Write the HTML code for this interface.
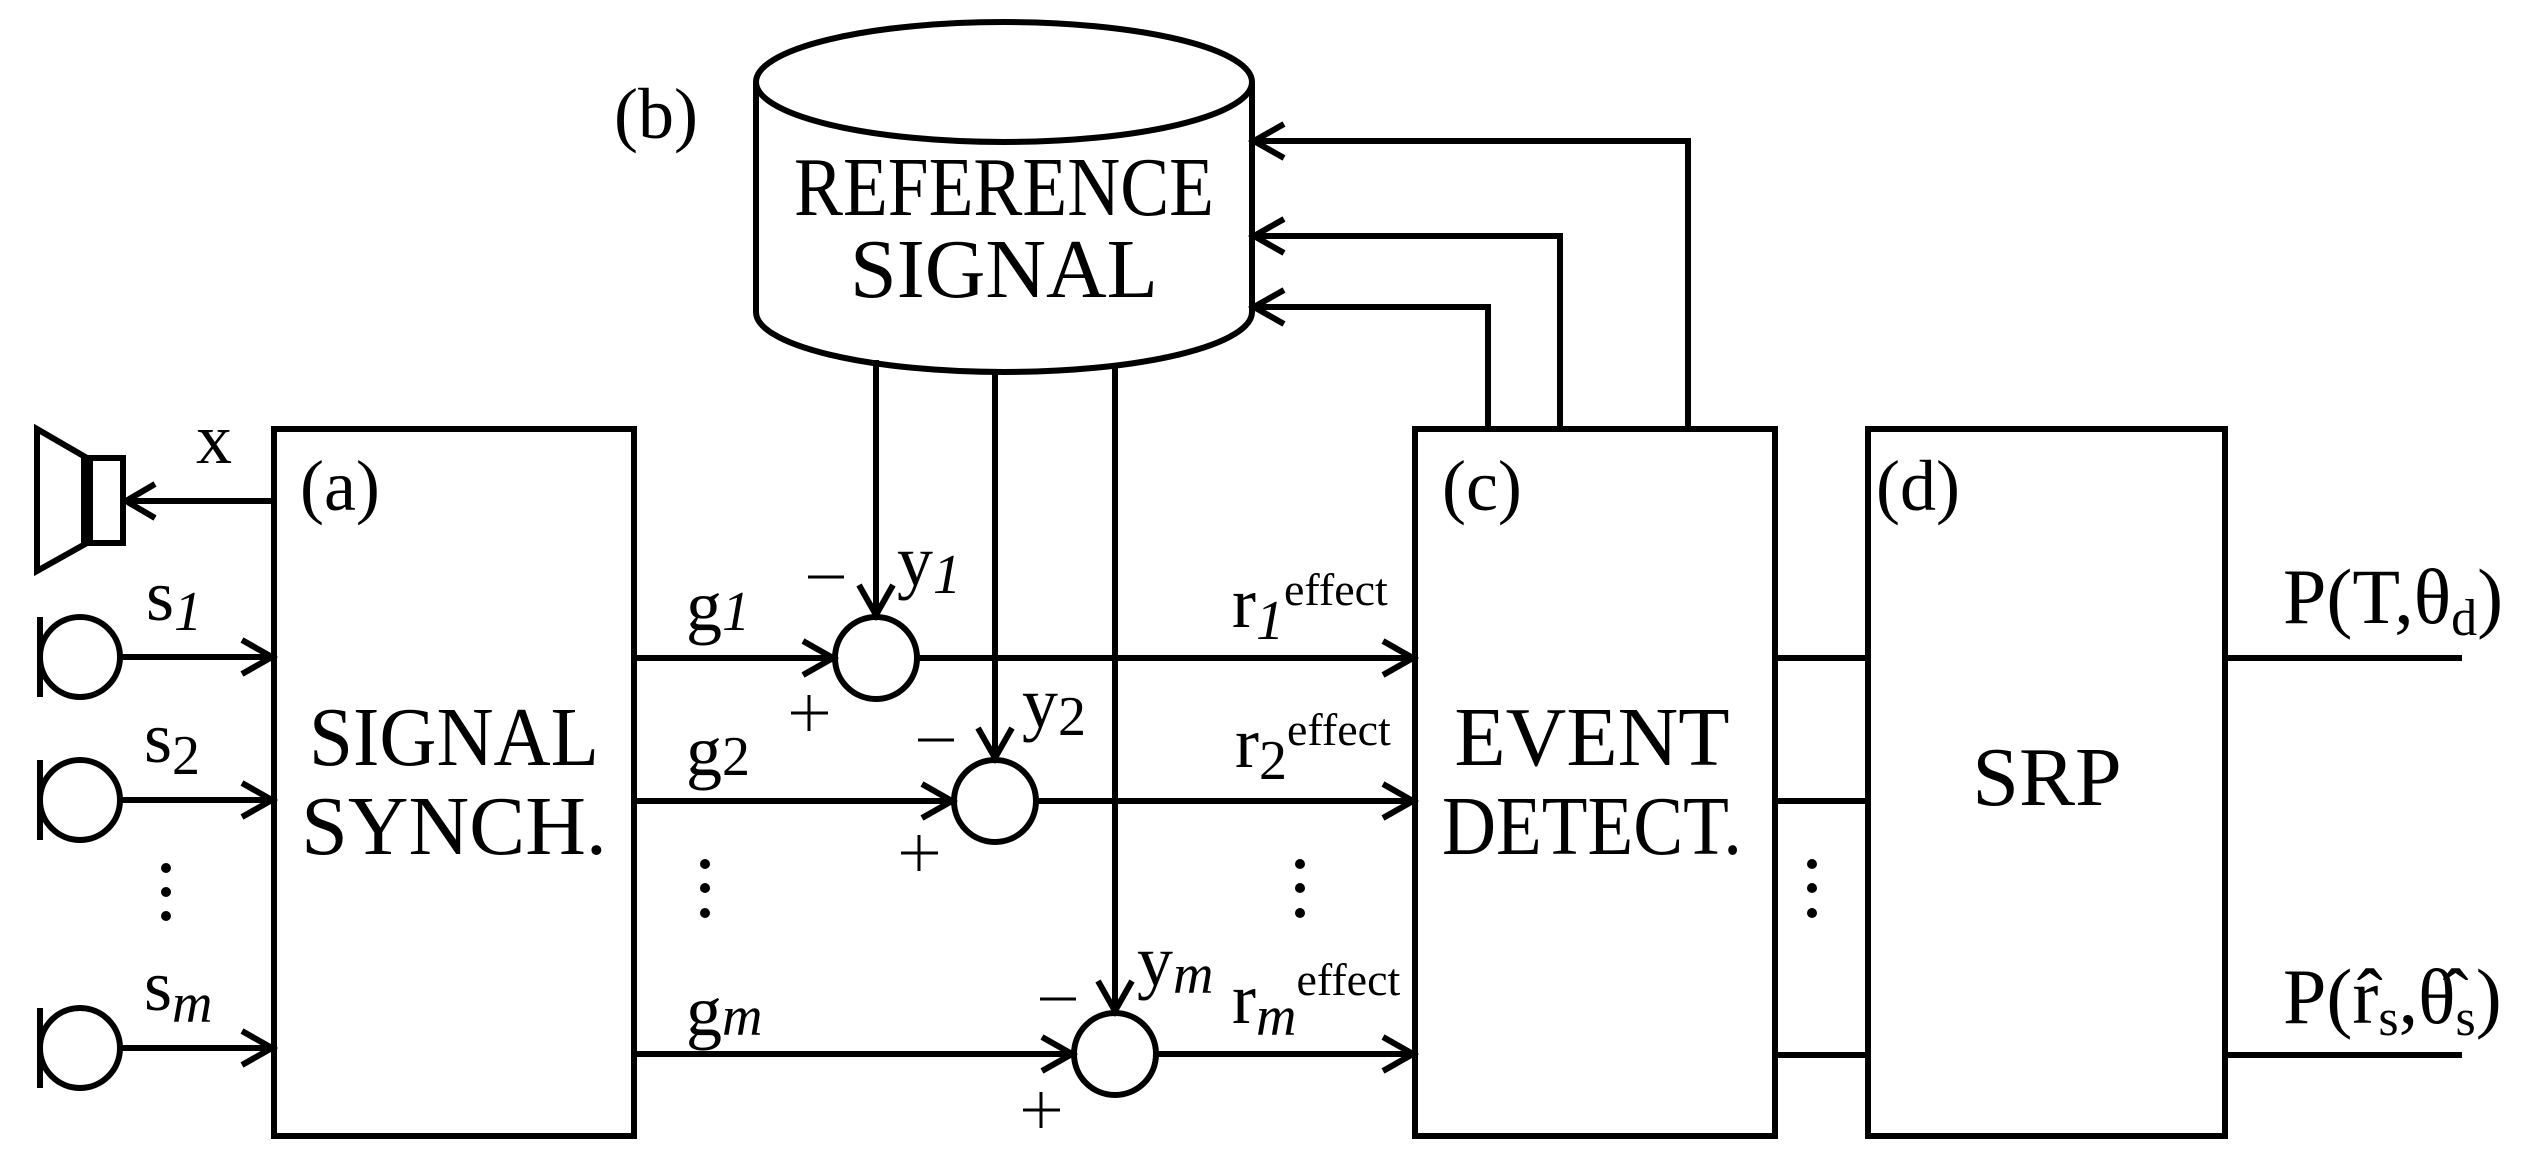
<!DOCTYPE html>
<html><head><meta charset="utf-8"><style>
html,body{margin:0;padding:0;background:#fff;}
svg{display:block;}
text{font-family:"Liberation Serif",serif;fill:#000;}
</style></head><body>
<svg width="2546" height="1167" viewBox="0 0 2546 1167" xmlns="http://www.w3.org/2000/svg">
<g stroke="#000" stroke-width="6" fill="none" stroke-linecap="butt">
<!-- boxes -->
<rect x="274" y="429" width="360" height="707"/>
<rect x="1415" y="429" width="360" height="707"/>
<rect x="1868" y="429" width="357" height="707"/>
<!-- cylinder -->
<path d="M756,82 L756,312 A248,60 0 0 0 1252,312 L1252,82"/>
<ellipse cx="1004" cy="82" rx="248" ry="60"/>
<!-- speaker -->
<path d="M37,429 L37,571 L87,543 L87,458 Z"/>
<rect x="87" y="458" width="36" height="85"/>
<line x1="87" y1="458" x2="87" y2="543" stroke-width="12"/>
<line x1="274" y1="501" x2="126" y2="501"/>
<path d="M155,484 L126,501 L155,518"/>
<!-- mics -->
<g>
<circle cx="80" cy="657" r="40"/><line x1="40" y1="617" x2="40" y2="697"/>
<circle cx="80" cy="800" r="40"/><line x1="40" y1="760" x2="40" y2="840"/>
<circle cx="80" cy="1048" r="40"/><line x1="40" y1="1008" x2="40" y2="1088"/>
</g>
<line x1="120" y1="657" x2="272" y2="657"/><path d="M242,640 L272,657 L242,674"/>
<line x1="120" y1="800" x2="272" y2="800"/><path d="M242,783 L272,800 L242,817"/>
<line x1="120" y1="1048" x2="272" y2="1048"/><path d="M242,1031 L272,1048 L242,1065"/>
<!-- g lines -->
<line x1="634" y1="658" x2="833" y2="658"/><path d="M803,641 L833,658 L803,675"/>
<line x1="634" y1="801" x2="952" y2="801"/><path d="M922,784 L952,801 L922,818"/>
<line x1="634" y1="1054" x2="1072" y2="1054"/><path d="M1042,1037 L1072,1054 L1042,1071"/>
<!-- sum circles -->
<circle cx="876" cy="658" r="41"/>
<circle cx="995" cy="801" r="41"/>
<circle cx="1115" cy="1054" r="41"/>
<!-- verticals from cylinder -->
<line x1="876" y1="360" x2="876" y2="615"/><path d="M859,585 L876,615 L893,585"/>
<line x1="995" y1="370" x2="995" y2="758"/><path d="M978,728 L995,758 L1012,728"/>
<line x1="1115" y1="368" x2="1115" y2="1011"/><path d="M1098,981 L1115,1011 L1132,981"/>
<!-- r lines -->
<line x1="917" y1="658" x2="1413" y2="658"/><path d="M1383,641 L1413,658 L1383,675"/>
<line x1="1036" y1="801" x2="1413" y2="801"/><path d="M1383,784 L1413,801 L1383,818"/>
<line x1="1156" y1="1054" x2="1413" y2="1054"/><path d="M1383,1037 L1413,1054 L1383,1071"/>
<!-- feedback -->
<path d="M1488,429 L1488,307 L1254,307"/><path d="M1284,290 L1254,307 L1284,324"/>
<path d="M1560,429 L1560,236 L1254,236"/><path d="M1284,219 L1254,236 L1284,253"/>
<path d="M1688,429 L1688,141 L1254,141"/><path d="M1284,124 L1254,141 L1284,158"/>
<!-- c to d -->
<line x1="1775" y1="658" x2="1868" y2="658"/>
<line x1="1775" y1="801" x2="1868" y2="801"/>
<line x1="1775" y1="1055" x2="1868" y2="1055"/>
<!-- outputs -->
<line x1="2225" y1="658" x2="2462" y2="658"/>
<line x1="2225" y1="1055" x2="2462" y2="1055"/>
<!-- minus/plus -->
<g stroke-width="3">
<line x1="808" y1="577" x2="844" y2="577"/>
<line x1="918" y1="740" x2="954" y2="740"/>
<line x1="1040" y1="999" x2="1076" y2="999"/>
<line x1="791" y1="713" x2="828" y2="713"/><line x1="809" y1="695" x2="809" y2="731"/>
<line x1="901" y1="853" x2="938" y2="853"/><line x1="919" y1="835" x2="919" y2="871"/>
<line x1="1023" y1="1110" x2="1060" y2="1110"/><line x1="1041" y1="1092" x2="1041" y2="1128"/>
</g>
</g>
<!-- dots -->
<g fill="#000">
<circle cx="166" cy="868" r="5"/><circle cx="166" cy="892" r="5"/><circle cx="166" cy="916" r="5"/>
<circle cx="705" cy="864" r="5"/><circle cx="705" cy="888" r="5"/><circle cx="705" cy="913" r="5"/>
<circle cx="1300" cy="864" r="5"/><circle cx="1300" cy="888" r="5"/><circle cx="1300" cy="913" r="5"/>
<circle cx="1812" cy="864" r="5"/><circle cx="1812" cy="888" r="5"/><circle cx="1812" cy="913" r="5"/>
</g>
<!-- texts -->
<g font-size="84" text-anchor="middle">
<text x="1004" y="215" textLength="420" lengthAdjust="spacingAndGlyphs">REFERENCE</text>
<text x="1004" y="297">SIGNAL</text>
<text x="454" y="765" textLength="290" lengthAdjust="spacingAndGlyphs">SIGNAL</text>
<text x="454" y="854">SYNCH.</text>
<text x="1592" y="765">EVENT</text>
<text x="1592" y="854" textLength="300" lengthAdjust="spacingAndGlyphs">DETECT.</text>
<text x="2047" y="805">SRP</text>
</g>
<g font-size="72">
<text x="614" y="138">(b)</text>
<text x="300" y="510">(a)</text>
<text x="1442" y="510">(c)</text>
<text x="1876" y="510">(d)</text>
<text x="196" y="463">x</text>
<text x="146" y="620">s<tspan font-size="56" font-style="italic" dy="10">1</tspan></text>
<text x="144" y="762">s<tspan font-size="56" dy="12">2</tspan></text>
<text x="144" y="1010">s<tspan font-size="56" font-style="italic" dy="12">m</tspan></text>
<text x="686" y="630">g<tspan font-size="56" font-style="italic">1</tspan></text>
<text x="686" y="775">g<tspan font-size="56">2</tspan></text>
<text x="686" y="1035">g<tspan font-size="56" font-style="italic">m</tspan></text>
<text x="897" y="585">y<tspan font-size="56" font-style="italic" dy="8">1</tspan></text>
<text x="1022" y="727">y<tspan font-size="56" dy="8">2</tspan></text>
<text x="1137" y="985">y<tspan font-size="56" font-style="italic" dy="8">m</tspan></text>
<text x="1232" y="627">r<tspan font-size="56" font-style="italic" dy="12">1</tspan><tspan font-size="46" dy="-34">effect</tspan></text>
<text x="1235" y="767">r<tspan font-size="56" dy="12">2</tspan><tspan font-size="46" dy="-34">effect</tspan></text>
<text x="1232" y="1023">r<tspan font-size="56" font-style="italic" dy="12">m</tspan><tspan font-size="46" dy="-40">effect</tspan></text>
<text x="2283" y="623" font-size="78">P(T,θ<tspan font-size="52" dy="12">d</tspan><tspan dy="-12">)</tspan></text>
<text x="2283" y="1023" font-size="78">P(r̂<tspan font-size="52" dy="12">s</tspan><tspan dy="-12">,θ̂</tspan><tspan font-size="52" dy="12">s</tspan><tspan dy="-12">)</tspan></text>
</g>
</svg>
</body></html>
